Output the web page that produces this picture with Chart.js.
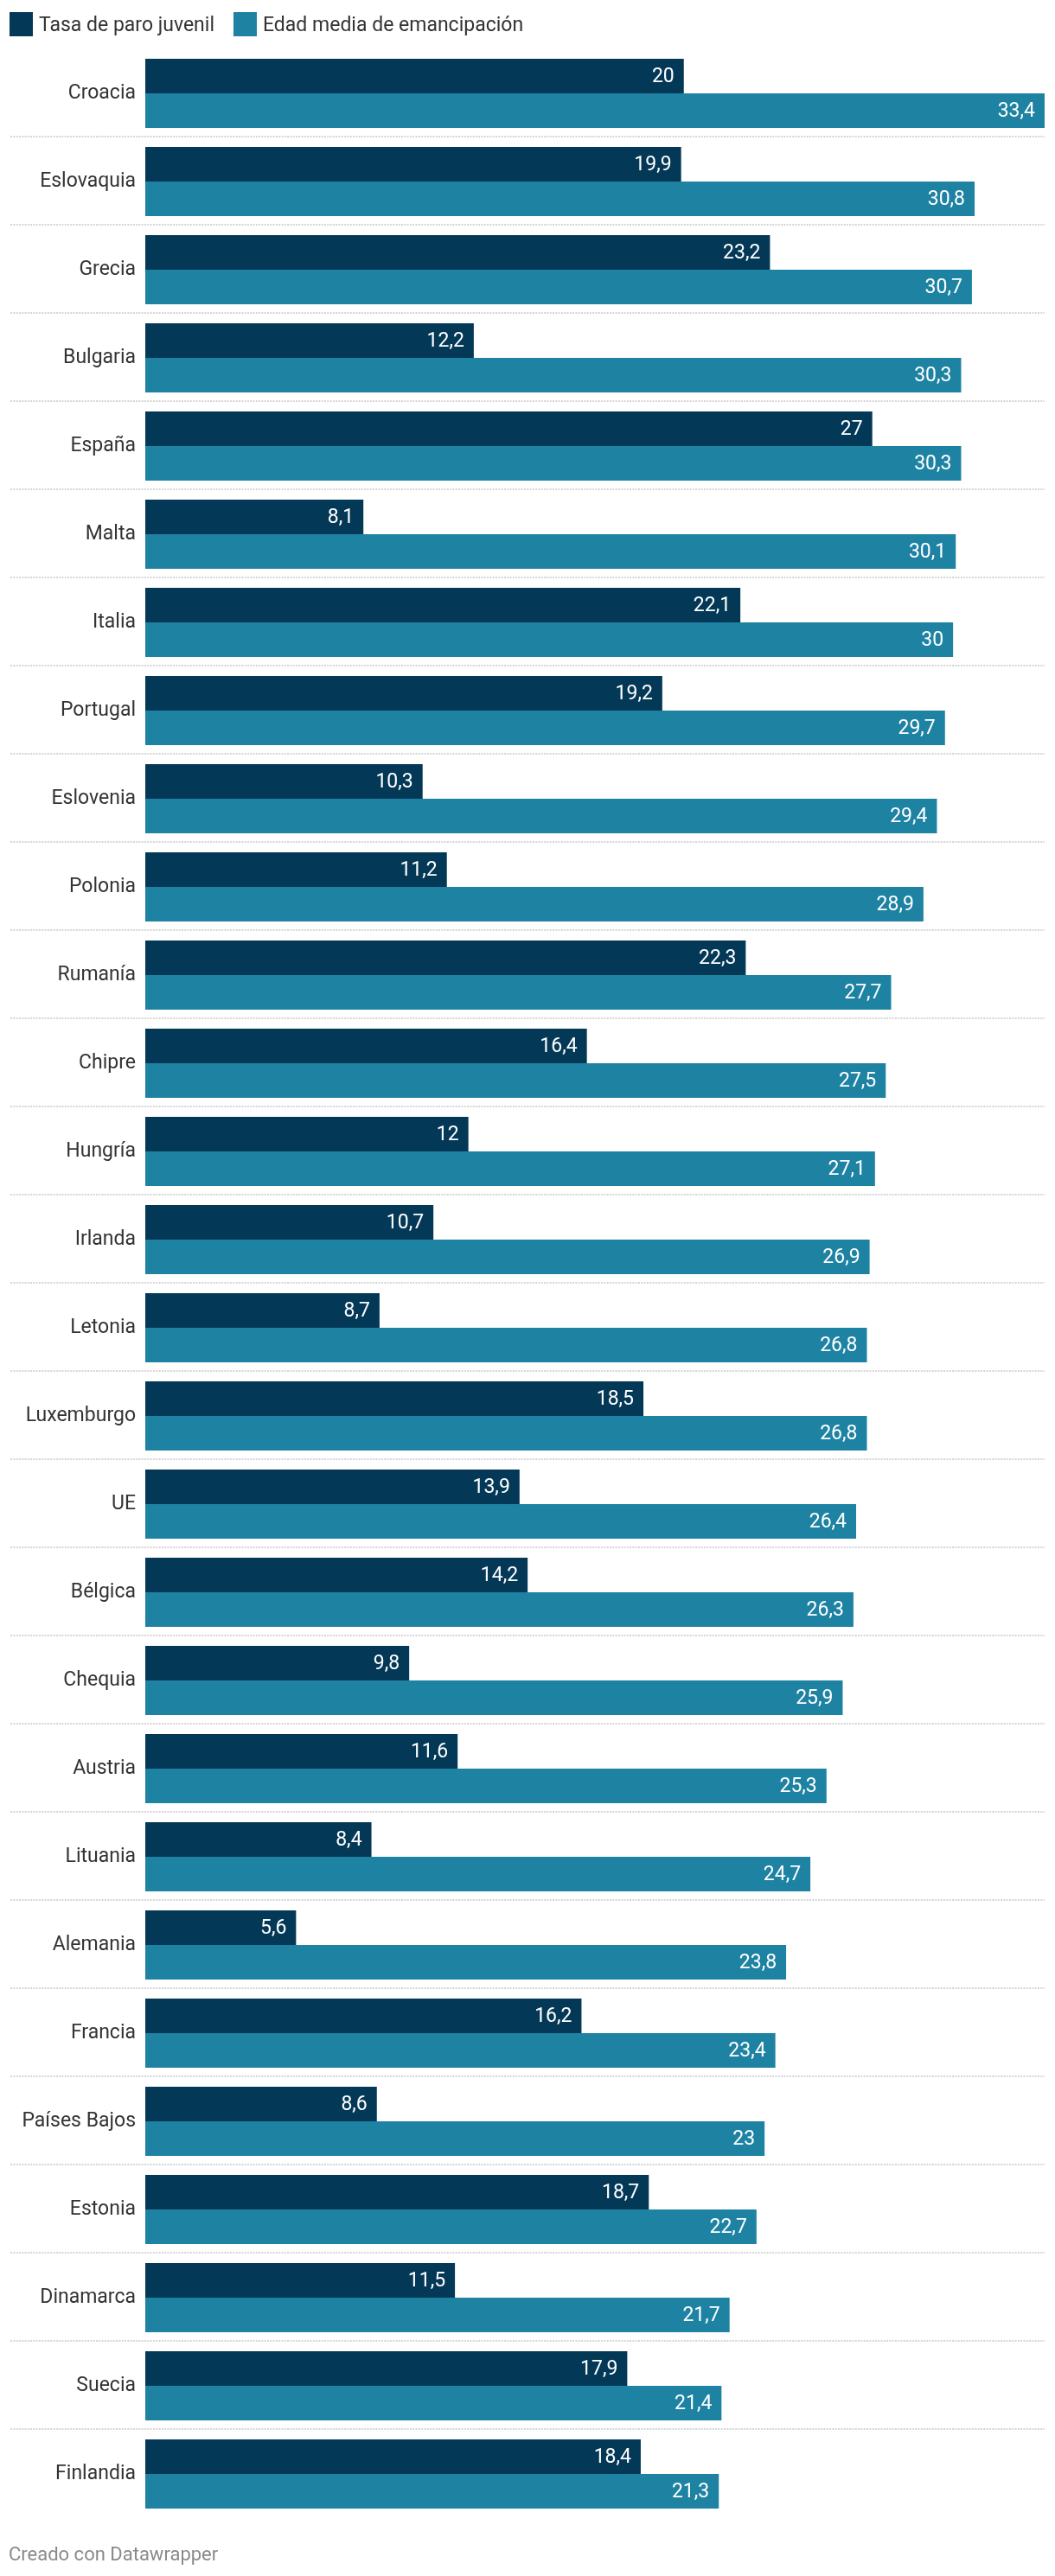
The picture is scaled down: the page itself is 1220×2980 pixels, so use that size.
<!DOCTYPE html>
<html><head><meta charset="utf-8">
<style>html,body{margin:0;padding:0;background:#fff;} canvas{display:block;}</style>
<script src="https://cdn.jsdelivr.net/npm/chart.js@4/dist/chart.umd.min.js"></script>
</head><body>
<canvas id="c" width="1220" height="2980" style="width:1220px;height:2980px"></canvas>
<script>
const categories = ['Croacia','Eslovaquia','Grecia','Bulgaria','España','Malta','Italia','Portugal','Eslovenia','Polonia','Rumanía','Chipre','Hungría','Irlanda','Letonia','Luxemburgo','UE','Bélgica','Chequia','Austria','Lituania','Alemania','Francia','Países Bajos','Estonia','Dinamarca','Suecia','Finlandia'];
const paroJuvenil = [20,19.9,23.2,12.2,27,8.1,22.1,19.2,10.3,11.2,22.3,16.4,12,10.7,8.7,18.5,13.9,14.2,9.8,11.6,8.4,5.6,16.2,8.6,18.7,11.5,17.9,18.4];
const edadEmancipacion = [33.4,30.8,30.7,30.3,30.3,30.1,30,29.7,29.4,28.9,27.7,27.5,27.1,26.9,26.8,26.8,26.4,26.3,25.9,25.3,24.7,23.8,23.4,23,22.7,21.7,21.4,21.3];
const seriesLabels = ['Tasa de paro juvenil','Edad media de emancipación'];
const seriesColors = ['#043857','#1e82a3'];
const footerText = 'Creado con Datawrapper';

const FONT = 'Roboto, "Noto Sans", sans-serif';
const fmt = v => String(v).replace('.', ',');

const overlay = {
  id: 'overlay',
  beforeDatasetsDraw(chart) {
    const ctx = chart.ctx, y = chart.scales.y;
    ctx.save();
    ctx.strokeStyle = '#d6d6d6';
    ctx.lineWidth = 2;
    ctx.setLineDash([2, 1.3]);
    for (let i = 0; i < categories.length - 1; i++) {
      const yy = Math.round((y.getPixelForValue(i) + y.getPixelForValue(i + 1)) / 2) - 1;
      ctx.beginPath();
      ctx.moveTo(12, yy);
      ctx.lineTo(1208, yy);
      ctx.stroke();
    }
    ctx.restore();
  },
  afterDatasetsDraw(chart) {
    const ctx = chart.ctx;
    ctx.save();
    ctx.font = '23px ' + FONT;
    ctx.fillStyle = '#ffffff';
    ctx.textAlign = 'right';
    ctx.textBaseline = 'middle';
    chart.data.datasets.forEach((ds, di) => {
      chart.getDatasetMeta(di).data.forEach((bar, i) => {
        ctx.fillText(fmt(ds.data[i]), bar.x - 11, bar.y + 1);
      });
    });
    ctx.restore();
  },
  afterDraw(chart) {
    const ctx = chart.ctx;
    ctx.save();
    ctx.font = '23px ' + FONT;
    ctx.textBaseline = 'alphabetic';
    ctx.textAlign = 'left';
    let x = 11;
    chart.data.datasets.forEach((ds) => {
      ctx.fillStyle = ds.backgroundColor;
      ctx.fillRect(x, 14, 27, 28);
      x += 34;
      ctx.fillStyle = '#333333';
      ctx.fillText(ds.label, x, 36);
      x += ctx.measureText(ds.label).width + 22;
    });
    ctx.font = '22px ' + FONT;
    ctx.fillStyle = '#8a8a8a';
    ctx.fillText(footerText, 10, 2962);
    ctx.restore();
  }
};

new Chart(document.getElementById('c'), {
  type: 'bar',
  data: {
    labels: categories,
    datasets: [
      { label: seriesLabels[0], data: paroJuvenil, backgroundColor: seriesColors[0], barPercentage: 1, categoryPercentage: 80 / 102 },
      { label: seriesLabels[1], data: edadEmancipacion, backgroundColor: seriesColors[1], barPercentage: 1, categoryPercentage: 80 / 102 }
    ]
  },
  options: {
    indexAxis: 'y',
    responsive: false,
    devicePixelRatio: 1,
    animation: false,
    layout: { padding: { left: 0, right: 12, top: 57, bottom: 67 } },
    scales: {
      x: { display: false, min: 0, max: Math.max(...edadEmancipacion, ...paroJuvenil) },
      y: {
        position: 'left',
        grid: { display: false, drawTicks: false },
        border: { display: false },
        ticks: { color: '#333333', font: { family: FONT, size: 23 }, padding: 11, crossAlign: 'near', autoSkip: false },
        afterFit(s) { s.width = 168; }
      }
    },
    plugins: { legend: { display: false }, tooltip: { enabled: false } }
  },
  plugins: [overlay]
});
</script>
</body></html>
